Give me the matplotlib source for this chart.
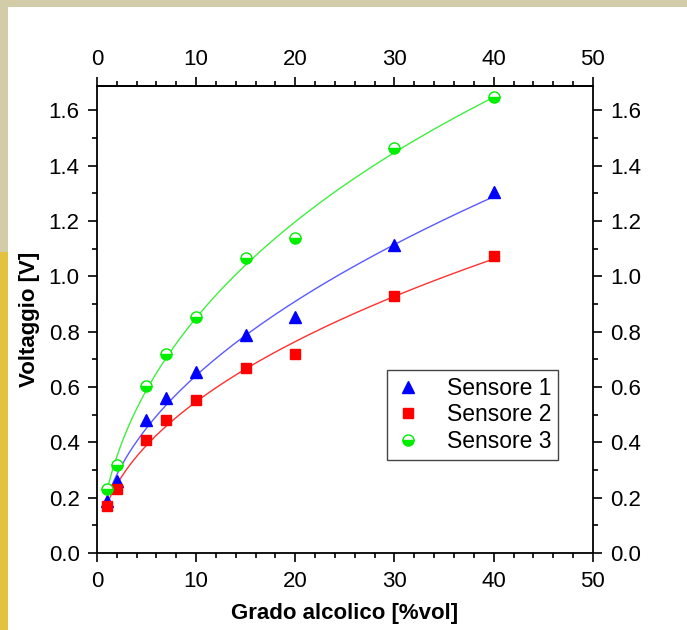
import numpy as np
import matplotlib
matplotlib.use('Agg')
import matplotlib.pyplot as plt
from matplotlib.patches import Rectangle
from matplotlib.ticker import MultipleLocator, FixedLocator, FormatStrFormatter

plt.rcParams['font.family'] = ['Liberation Sans', 'DejaVu Sans']

# alcohol content [%vol]
grado = [1, 2, 5, 7, 10, 15, 20, 30, 40]
sensore1 = [0.19, 0.26, 0.48, 0.56, 0.655, 0.79, 0.855, 1.115, 1.305]
sensore2 = [0.17, 0.23, 0.41, 0.48, 0.555, 0.67, 0.72, 0.93, 1.075]
sensore3 = [0.23, 0.32, 0.605, 0.72, 0.855, 1.065, 1.14, 1.465, 1.65]
xticks = [0, 10, 20, 30, 40, 50]


def smooth_fit(x, y):
    # least squares fit y = c0 + c1*sqrt(x) + c2*x
    c = np.polyfit(np.sqrt(x), y, 2)
    xs = np.linspace(min(x), max(x), 200)
    return xs, np.polyval(c, np.sqrt(xs))


fig = plt.figure(figsize=(6.87, 6.30), dpi=100)
fig.patch.set_facecolor('#d3cca9')
# yellow part of the background on the left
fig.patches.append(Rectangle((0, 0), 0.02, 0.6, transform=fig.transFigure,
                             facecolor='#e2c23e', edgecolor='none', zorder=-20))
# white panel
fig.patches.append(Rectangle((8 / 687, 0), 1, 623 / 630, transform=fig.transFigure,
                             facecolor='white', edgecolor='none', zorder=-10))

ax = fig.add_axes([0.141, 0.122, 0.722, 0.741])
ax.set_zorder(5)

series = [
    (sensore1, 'Sensore 1', dict(marker='^', color='blue', ms=9), '#5a5aff'),
    (sensore2, 'Sensore 2', dict(marker='s', color='red', ms=7), '#ff3030'),
    (sensore3, 'Sensore 3', dict(marker='o', color='#00ee00', ms=8, fillstyle='bottom',
                                 markerfacecoloralt='white', mec='#00ee00', mew=1.0), '#40ee40'),
]
for y, lab, mk, lc in series:
    xs, ys = smooth_fit(grado, y)
    ax.plot(xs, ys, '-', color=lc, lw=1.0, zorder=2)
    ax.plot(grado, y, ls='none', label=lab, zorder=3, **mk)

ax.set_xlim(0, 50)
ax.set_ylim(0, 1.687)
ax.xaxis.set_major_locator(FixedLocator(xticks))
ax.xaxis.set_minor_locator(MultipleLocator(2))
ax.yaxis.set_major_locator(MultipleLocator(0.2))
ax.yaxis.set_minor_locator(MultipleLocator(0.1))
ax.yaxis.set_major_formatter(FormatStrFormatter('%.1f'))
ax.tick_params(which='both', direction='out', top=False, right=True,
               labelright=True, width=1.2, labelsize=16, pad=6)
ax.tick_params(which='major', length=6.5)
ax.tick_params(which='minor', length=3.5)
for s in ax.spines.values():
    s.set_linewidth(1.3)

top = ax.secondary_xaxis('top')
top.xaxis.set_major_locator(FixedLocator(xticks))
top.xaxis.set_minor_locator(MultipleLocator(2))
top.tick_params(which='both', direction='out', width=1.2, labelsize=16, pad=5)
top.tick_params(which='major', length=6.5)
top.tick_params(which='minor', length=3.5)
top.spines['top'].set_linewidth(1.3)

ax.set_xlabel('Grado alcolico [%vol]', fontsize=16, fontweight='bold', labelpad=8)
ax.set_ylabel('Voltaggio [V]', fontsize=16, fontweight='bold', labelpad=6)

leg = ax.legend(loc='upper left', bbox_to_anchor=(0.585, 0.392), fontsize=16.5,
                fancybox=False, edgecolor='#444444', framealpha=1,
                handlelength=1.2, handletextpad=1.1, borderpad=0.3, labelspacing=0.15,
                borderaxespad=0)
leg.get_frame().set_linewidth(1.0)

fig.savefig('out.png', dpi=100, facecolor=fig.get_facecolor())
